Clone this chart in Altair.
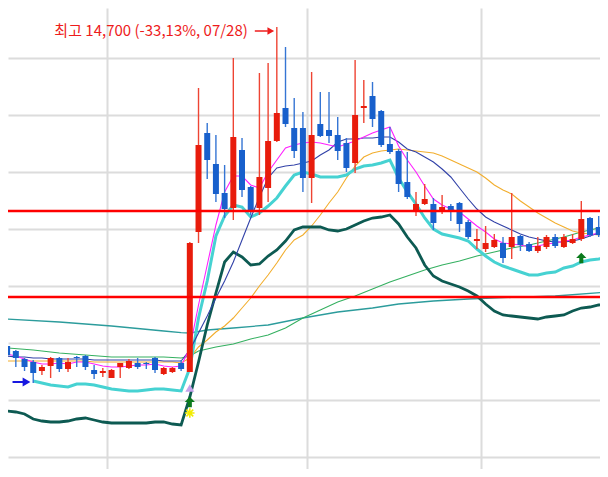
import altair as alt
import pandas as pd

# ---- trading days (2020), k = index - 21 (k=0 is the 07/14 breakout candle)
dates = [
    "2020-06-15", "2020-06-16", "2020-06-17", "2020-06-18", "2020-06-19",
    "2020-06-22", "2020-06-23", "2020-06-24", "2020-06-25", "2020-06-26",
    "2020-06-29", "2020-06-30", "2020-07-01", "2020-07-02", "2020-07-03",
    "2020-07-06", "2020-07-07", "2020-07-08", "2020-07-09", "2020-07-10",
    "2020-07-13", "2020-07-14", "2020-07-15", "2020-07-16", "2020-07-17",
    "2020-07-20", "2020-07-21", "2020-07-22", "2020-07-23", "2020-07-24",
    "2020-07-27", "2020-07-28", "2020-07-29", "2020-07-30", "2020-07-31",
    "2020-08-03", "2020-08-04", "2020-08-05", "2020-08-06", "2020-08-07",
    "2020-08-10", "2020-08-11", "2020-08-12", "2020-08-13", "2020-08-14",
    "2020-08-18", "2020-08-19", "2020-08-20", "2020-08-21", "2020-08-24",
    "2020-08-25", "2020-08-26", "2020-08-27", "2020-08-28", "2020-08-31",
    "2020-09-01", "2020-09-02", "2020-09-03", "2020-09-04", "2020-09-07",
    "2020-09-08", "2020-09-09", "2020-09-10", "2020-09-11", "2020-09-14",
    "2020-09-15", "2020-09-16", "2020-09-17", "2020-09-18", "2020-09-21",
]
K_OFFSET = 21

opens = [6725, 6600, 6400, 6325, 6100, 6225, 6425, 6150, 6450, 6475,
         6125, 6050, 5925, 6200, 6175, 6300, 6300, 6425, 6025, 6075, 6300,
         6075, 9575, 12050, 11275, 10550, 10175, 11625, 10700, 10175, 10675,
         11850, 12675, 12175, 12175, 10925, 12275, 12125, 12000, 11800, 11300,
         12675, 12975, 12600, 11775, 11600, 10825, 10100, 10275, 10275, 10075,
         10225, 10300, 9825, 9350, 9150, 9200, 9300, 9200, 9475, 9275,
         9100, 9200, 9450, 9200, 9300, 9400, 9925, 9700, 9675]
highs = [6750, 6625, 6425, 6375, 6250, 6450, 6450, 6425, 6475, 6500,
         6250, 6175, 6150, 6300, 6400, 6425, 6325, 6450, 6200, 6200, 6375,
         9325, 13175, 12300, 12000, 11250, 13925, 11925, 10725, 13550, 13800,
         14700, 14200, 12925, 12575, 13575, 13075, 13075, 12450, 11925, 13875,
         13375, 13325, 12625, 12200, 11650, 11575, 10575, 10775, 10425, 10500,
         10275, 10325, 9875, 9650, 9725, 9525, 9450, 10550, 9500, 9325,
         9450, 9500, 9525, 9525, 9525, 10350, 9950, 9975, 9750]
lows = [6450, 6200, 6100, 5800, 6000, 5925, 6075, 6075, 6200, 6125,
        5900, 5950, 5925, 5925, 6150, 6150, 6150, 6050, 6000, 6050, 6100,
        6075, 9300, 10900, 10325, 9925, 9875, 10450, 10000, 10000, 10325,
        11825, 12200, 11425, 10575, 10300, 11950, 11800, 11375, 11075, 11050,
        12300, 12200, 11700, 11525, 10575, 10400, 9975, 10250, 9625, 10025,
        9850, 9575, 9400, 9150, 9075, 9175, 8800, 8900, 9100, 9075,
        9050, 9150, 9175, 9175, 9275, 9350, 9450, 9450, 9425]
closes = [6500, 6425, 6200, 6050, 6200, 6425, 6150, 6325, 6425, 6200,
          6025, 6100, 6125, 6300, 6350, 6200, 6275, 6125, 6175, 6175, 6150,
          9300, 11750, 11375, 10525, 10150, 11950, 10625, 10125, 10950, 11850,
          12550, 12275, 11600, 10925, 12000, 11975, 11975, 11600, 11175, 12500,
          12725, 12400, 11750, 11575, 10775, 10450, 10275, 10400, 9800, 10200,
          10125, 9775, 9450, 9400, 9300, 9375, 8925, 9450, 9250, 9100,
          9225, 9450, 9225, 9450, 9400, 9900, 9500, 9500, 9450]

# ---- moving averages / bands (one value per trading day)
ma5 = [6525, 6475, 6400, 6325, 6275, 6275, 6300, 6275, 6325, 6325,
       6275, 6225, 6200, 6200, 6225, 6250, 6250, 6275, 6225, 6200, 6225,
       6675, 7750, 8750, 9750, 10575, 10975, 10975, 10750, 10675, 11075,
       11375, 11675, 11750, 11800, 11825, 11800, 11750, 11700, 11775, 11850,
       11950, 12050, 12125, 12200, 11725, 11375, 11075, 10725, 10400, 10250,
       10150, 10075, 9900, 9725, 9575, 9400, 9300, 9275, 9250, 9200,
       9225, 9275, 9300, 9350, 9375, 9450, 9500, 9550, 9600]
ma10 = [6475, 6450, 6450, 6425, 6425, 6400, 6400, 6400, 6400, 6400,
        6375, 6375, 6375, 6375, 6375, 6375, 6375, 6375, 6350, 6350, 6350,
        6625, 7050, 7475, 7925, 8350, 8825, 9375, 9925, 10450, 10925,
        11175, 11225, 11250, 11300, 11350, 11500, 11625, 11825, 11900, 11900,
        11925, 11925, 11950, 11950, 11825, 11650, 11575, 11450, 11325, 11150,
        10950, 10675, 10400, 10150, 9950, 9825, 9725, 9625, 9525, 9450,
        9400, 9350, 9325, 9325, 9350, 9400, 9475, 9550, 9625]
ma20 = [6350, 6350, 6350, 6350, 6350, 6350, 6350, 6350, 6350, 6350,
        6325, 6325, 6325, 6325, 6325, 6325, 6325, 6325, 6325, 6325, 6300,
        6425, 6700, 6875, 7075, 7225, 7425, 7675, 7925, 8225, 8500,
        8800, 9125, 9375, 9500, 9725, 10000, 10300, 10575, 10925, 11225,
        11450, 11550, 11600, 11625, 11650, 11625, 11600, 11575, 11550, 11475,
        11375, 11275, 11175, 11075, 10925, 10750, 10625, 10525, 10350, 10200,
        10050, 9925, 9800, 9700, 9600, 9550, 9525, 9500, 9500]
band_low = [None, None, None, 5850, 5800, 5750, 5725, 5700, 5775, 5775,
            5750, 5700, 5650, 5625, 5600, 5600, 5625, 5650, 5650, 5625, 5600,
            6175, 7425, 8350, 9475, 9975, 10250, 10200, 9950, 10050, 10225,
            10425, 10725, 11000, 11075, 11025, 10950, 10950, 10950, 11000, 11150,
            11225, 11250, 11300, 11375, 10925, 10575, 10275, 9925, 9650, 9525,
            9475, 9425, 9350, 9150, 8975, 8825, 8725, 8650, 8575, 8500,
            8500, 8550, 8575, 8675, 8725, 8825, 8875, 8900, 8950]
band_low2 = [5100, 5075, 5025, 4900, 4850, 4825, 4825, 4850, 4900, 4925,
             4875, 4825, 4800, 4800, 4800, 4800, 4800, 4825, 4825, 4775, 4750,
             5450, 6325, 7250, 8050, 8825, 9075, 8950, 8750, 8775, 8975,
             9125, 9350, 9625, 9700, 9700, 9700, 9625, 9600, 9650, 9750,
             9850, 9925, 9950, 10000, 9775, 9450, 9175, 8750, 8475, 8350,
             8275, 8200, 8100, 7975, 7775, 7600, 7500, 7475, 7450, 7425,
             7400, 7450, 7475, 7500, 7600, 7675, 7700, 7750, 7775]

# long averages read at selected candles (k index)
ma60_k = [-21, -18, -15, -12, -9, -6, -3, -1, 0, 1, 3, 5, 7, 9, 11, 13, 15, 17,
          19, 21, 23, 25, 27, 29, 31, 33, 35, 37, 39, 41, 43, 45, 47, 48]
ma60_v = [6675, 6625, 6550, 6500, 6450, 6450, 6450, 6425, 6475, 6600, 6700, 6775,
          6900, 7000, 7175, 7425, 7625, 7825, 7975, 8150, 8325, 8475, 8625, 8750,
          8850, 8975, 9075, 9175, 9250, 9350, 9450, 9575, 9675, 9725]
ma120_k = [-21, -15, -9, -3, -1, 0, 2, 5, 9, 13, 17, 21, 24, 28, 32, 37, 42, 48]
ma120_v = [7400, 7325, 7225, 7100, 7060, 7050, 7125, 7175, 7250, 7425, 7575,
           7675, 7775, 7850, 7900, 7940, 7975, 8075]

# horizontal support / resistance lines
level_prices = [10100, 7950]
grid_prices = [13925, 12500, 11075, 9650, 8225, 6800, 5375, 3950]

# signal markers: (k, price, kind)
sig_k = [0, 45, 0, 0, -19]
sig_price = [5325, 8925, 5675, 5050, 5825]
sig_kind = ["buy", "buy", "tri", "star", "blue"]

high_label = "최고 14,700 (-33,13%, 07/28)"

# ---------------------------------------------------------------------------
ks = [i - K_OFFSET for i in range(len(dates))]
candles = pd.DataFrame({"date": dates, "k": ks, "open": opens, "high": highs,
                        "low": lows, "close": closes})

month_lines = [ks[i] - 0.5 for i in range(1, len(dates)) if dates[i][5:7] != dates[i - 1][5:7]]

x_scale = alt.Scale(domain=[-20.9, 47.15], nice=False, zero=False)
y_scale = alt.Scale(domain=[3650, 15175], nice=False, zero=False)
GRID = "#dcdcdc"
x_axis = alt.Axis(values=month_lines, grid=True, labels=False, ticks=False, domain=False,
                  title="", gridColor=GRID, gridWidth=2)
y_axis = alt.Axis(values=grid_prices, grid=True, labels=False, ticks=False, domain=False,
                  title="", gridColor=GRID, gridWidth=2)


def X(f):
    return alt.X(f, type="quantitative", scale=x_scale, axis=x_axis)


def Y(f):
    return alt.Y(f, type="quantitative", scale=y_scale, axis=y_axis)


def line_df(kvals, vals):
    rows = [(k, v) for k, v in zip(kvals, vals) if v is not None]
    return pd.DataFrame(rows, columns=["k", "value"])


def line_layer(kvals, vals, color, width):
    return alt.Chart(line_df(kvals, vals)).mark_line(
        color=color, strokeWidth=width, clip=True
    ).encode(x=X("k"), y=Y("value"))


layers = [
    line_layer(ma120_k, ma120_v, "#2c9c9c", 1.3),
    line_layer(ma60_k, ma60_v, "#34b060", 1.1),
    line_layer(ks, ma20, "#f2ae2e", 1.1),
    line_layer(ks, band_low2, "#0d5a52", 2.8),
    line_layer(ks, band_low, "#46d2d2", 3),
    line_layer(ks, ma10, "#3242a8", 1.1),
    line_layer(ks, ma5, "#ff20ff", 1.1),
]

up = "datum.close >= datum.open"
wicks = alt.Chart(candles).mark_rule(strokeWidth=1.4, clip=True).encode(
    x=X("k"), y=Y("low"), y2="high",
    color=alt.condition(up, alt.value("#ee4433"), alt.value("#3575d4")),
)
bodies = alt.Chart(candles).mark_rule(strokeWidth=6, clip=True).encode(
    x=X("k"), y=Y("open"), y2="close",
    color=alt.condition(up, alt.value("#e81c0c"), alt.value("#1860cc")),
)
layers += [wicks, bodies]

levels = alt.Chart(pd.DataFrame({"price": level_prices})).mark_rule(
    color="#ff0000", strokeWidth=2.6
).encode(y=Y("price"))
layers.append(levels)

sig = pd.DataFrame({"k": sig_k, "price": sig_price, "kind": sig_kind})
arrow_path = "M0,-1L0.95,0L0.38,0L0.38,1L-0.38,1L-0.38,0L-0.95,0Z"
star_path = "M-1,0L1,0M0,-1L0,1M-0.72,-0.72L0.72,0.72M-0.72,0.72L0.72,-0.72"
layers += [
    alt.Chart(sig).transform_filter("datum.kind == 'buy'").mark_point(
        shape=arrow_path, filled=True, size=115, color="#0b7a1c", opacity=1, clip=True
    ).encode(x=X("k"), y=Y("price")),
    alt.Chart(sig).transform_filter("datum.kind == 'tri'").mark_point(
        shape="triangle-up", filled=True, size=80, color="#c6a2ec", opacity=1, clip=True
    ).encode(x=X("k"), y=Y("price")),
    alt.Chart(sig).transform_filter("datum.kind == 'star'").mark_point(
        shape=star_path, filled=False, size=90, color="#f2ec00", strokeWidth=1.6,
        opacity=1, clip=True
    ).encode(x=X("k"), y=Y("price")),
    alt.Chart(sig).transform_filter("datum.kind == 'blue'").mark_rule(
        color="#1818e0", strokeWidth=2, xOffset=-12, x2Offset=0, clip=True
    ).encode(x=X("k"), x2="k", y=Y("price")),
    alt.Chart(sig).transform_filter("datum.kind == 'blue'").mark_point(
        shape="triangle-right", filled=True, size=80, color="#1818e0", opacity=1,
        xOffset=2, clip=True
    ).encode(x=X("k"), y=Y("price")),
]

top = candles.loc[candles["high"].idxmax()]
ann = pd.DataFrame({"k": [top["k"]], "high": [top["high"]], "label": [high_label]})
RED = "#ee1c1c"
layers += [
    alt.Chart(ann).mark_text(
        align="right", baseline="middle", dx=-29, dy=4, fontSize=15,
        font="Noto Sans CJK KR", color=RED
    ).encode(x=X("k"), y=Y("high"), text="label:N"),
    alt.Chart(ann).mark_rule(
        color=RED, strokeWidth=1.5, xOffset=-22, x2Offset=-9, yOffset=4, y2Offset=4
    ).encode(x=X("k"), x2="k", y=Y("high")),
    alt.Chart(ann).mark_point(
        shape="triangle-right", filled=True, size=60, color=RED, opacity=1,
        xOffset=-6, yOffset=4
    ).encode(x=X("k"), y=Y("high")),
]

chart = alt.layer(*layers).properties(
    width=592, height=461,
    autosize=alt.AutoSizeParams(type="none"),
    padding=0,
    background="white",
).configure_view(strokeWidth=0)

chart.save("out.html", embed_options={"renderer": "svg", "actions": False})
